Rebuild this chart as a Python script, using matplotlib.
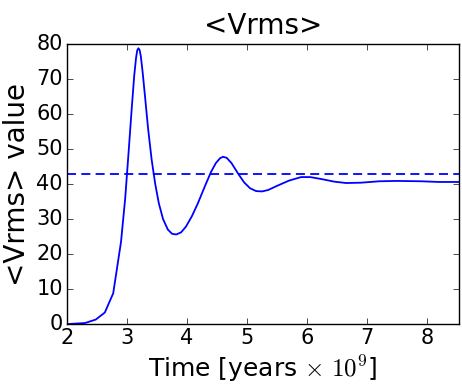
import numpy as np
import matplotlib
matplotlib.use("Agg")
import matplotlib.pyplot as plt

# time [Gyr] and mean Vrms value
t = [2.0, 2.3, 2.48, 2.63, 2.77, 2.9, 2.97, 3.03, 3.08, 3.12, 3.15, 3.17, 3.19,
     3.21, 3.23, 3.26, 3.3, 3.35, 3.41, 3.47, 3.53, 3.6, 3.68, 3.75, 3.82, 3.9,
     3.98, 4.08, 4.18, 4.3, 4.4, 4.48, 4.55, 4.6, 4.66, 4.74, 4.85, 4.95, 5.05,
     5.15, 5.25, 5.35, 5.5, 5.7, 5.9, 6.05, 6.25, 6.45, 6.65, 6.9, 7.2, 7.5,
     7.9, 8.2, 8.53]
vrms = [0.0, 0.3, 1.3, 3.3, 8.8, 23.5, 36.0, 50.0, 62.0, 71.0, 76.0, 78.2, 78.8,
        78.3, 76.5, 72.0, 65.0, 56.0, 47.0, 40.0, 34.5, 30.0, 27.0, 25.8, 25.6, 26.2,
        27.8, 30.8, 34.5, 39.5, 43.5, 46.0, 47.4, 47.8, 47.5, 46.0, 43.0, 40.5, 38.8,
        38.0, 37.9, 38.3, 39.5, 41.0, 42.0, 42.0, 41.4, 40.7, 40.3, 40.4, 40.8, 40.9,
        40.8, 40.6, 40.6]
vrms_ref = 42.9

plt.style.use('classic')
plt.rcParams['mathtext.fontset'] = 'cm'

fig = plt.figure(figsize=(4.62, 3.9), dpi=100, facecolor='white')
ax = fig.add_axes([0.145, 0.169, 0.8485, 0.718])

ax.plot(t, vrms, color='b', lw=1.3)
ax.axhline(vrms_ref, color='b', ls='--', lw=1.3, dashes=(6.5, 3.8))

ax.set_xlim(2, 8.53)
ax.set_ylim(0, 80)
ax.set_xticks([2, 3, 4, 5, 6, 7, 8])
ax.set_yticks(range(0, 81, 10))
ax.tick_params(labelsize=15, pad=3)
ax.set_title('<Vrms>', fontsize=20, y=1.01)
ax.set_xlabel(r'Time [years $\times\ 10^9$]', fontsize=18, labelpad=4)
ax.set_ylabel('<Vrms> value', fontsize=20, labelpad=4)

fig.savefig('out.png', dpi=100, facecolor='white')
